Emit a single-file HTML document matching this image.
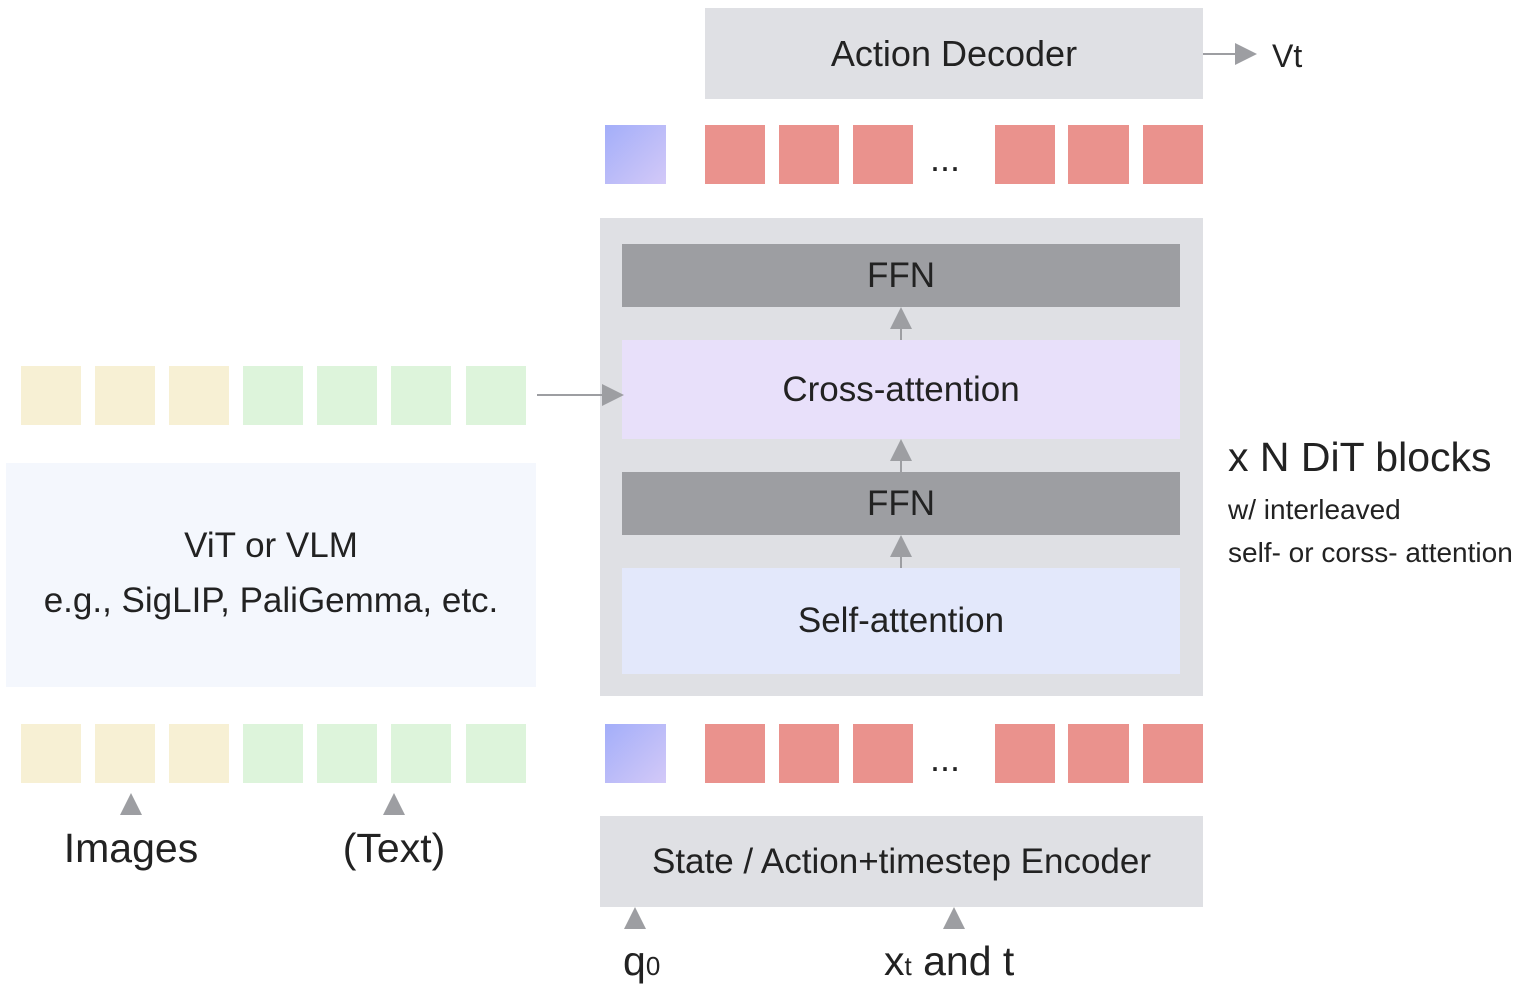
<!DOCTYPE html>
<html><head><style>
body{margin:0;width:1530px;height:984px;background:#fff;position:relative;overflow:hidden;font-family:"Liberation Sans",sans-serif;color:#222}
.a{position:absolute}
.t{display:flex;align-items:center;justify-content:center}
.r{background:#EA928D}.b{background:linear-gradient(135deg,#a3aef9,#d3c9f8)}
.y{background:#F7F0D4}.g{background:#DDF4DB}
.up{width:0;height:0;border-left:11px solid transparent;border-right:11px solid transparent;border-bottom:22px solid #9d9ea2}
</style></head><body>
<div class="a t" style="left:705px;top:8px;width:498px;height:91px;background:#DFE0E4;font-size:36px">Action Decoder</div>
<div class="a" style="left:1203px;top:53px;width:34px;height:2px;background:#9d9ea2"></div>
<div class="a" style="left:1235px;top:43px;width:0;height:0;border-top:11px solid transparent;border-bottom:11px solid transparent;border-left:22px solid #9d9ea2"></div>
<div class="a" style="left:1272px;top:38px;font-size:32px">Vt</div>

<div class="a b" style="left:605px;top:125px;width:61px;height:59px"></div>
<div class="a r" style="left:705px;top:125px;width:60px;height:59px"></div>
<div class="a r" style="left:779px;top:125px;width:60px;height:59px"></div>
<div class="a r" style="left:853px;top:125px;width:60px;height:59px"></div>
<div class="a" style="left:930px;top:138px;font-size:36px">...</div>
<div class="a r" style="left:995px;top:125px;width:60px;height:59px"></div>
<div class="a r" style="left:1068px;top:125px;width:61px;height:59px"></div>
<div class="a r" style="left:1143px;top:125px;width:60px;height:59px"></div>

<div class="a" style="left:600px;top:218px;width:603px;height:478px;background:#DFE0E4"></div>
<div class="a t" style="left:622px;top:244px;width:558px;height:63px;background:#9D9EA2;font-size:35px">FFN</div>
<div class="a t" style="left:622px;top:340px;width:558px;height:99px;background:#E8E0FA;font-size:35px">Cross-attention</div>
<div class="a t" style="left:622px;top:472px;width:558px;height:63px;background:#9D9EA2;font-size:35px">FFN</div>
<div class="a t" style="left:622px;top:568px;width:558px;height:106px;background:#E3E8FB;font-size:35px">Self-attention</div>
<div class="a" style="left:900px;top:320px;width:2px;height:20px;background:#9d9ea2"></div>
<div class="a up" style="left:890px;top:307px"></div>
<div class="a" style="left:900px;top:452px;width:2px;height:20px;background:#9d9ea2"></div>
<div class="a up" style="left:890px;top:439px"></div>
<div class="a" style="left:900px;top:548px;width:2px;height:20px;background:#9d9ea2"></div>
<div class="a up" style="left:890px;top:535px"></div>

<div class="a" style="left:1228px;top:434px;font-size:41px">x N DiT blocks</div>
<div class="a" style="left:1228px;top:494px;font-size:28px">w/ interleaved</div>
<div class="a" style="left:1228px;top:537px;font-size:28px">self- or corss- attention</div>

<div class="a y" style="left:21px;top:366px;width:60px;height:59px"></div>
<div class="a y" style="left:95px;top:366px;width:60px;height:59px"></div>
<div class="a y" style="left:169px;top:366px;width:60px;height:59px"></div>
<div class="a g" style="left:243px;top:366px;width:60px;height:59px"></div>
<div class="a g" style="left:317px;top:366px;width:60px;height:59px"></div>
<div class="a g" style="left:391px;top:366px;width:60px;height:59px"></div>
<div class="a g" style="left:466px;top:366px;width:60px;height:59px"></div>
<div class="a" style="left:537px;top:394px;width:68px;height:2px;background:#9d9ea2"></div>
<div class="a" style="left:602px;top:384px;width:0;height:0;border-top:11px solid transparent;border-bottom:11px solid transparent;border-left:22px solid #9d9ea2"></div>

<div class="a" style="left:6px;top:463px;width:530px;height:224px;background:#F4F7FD"></div>
<div class="a" style="left:6px;top:526px;width:530px;text-align:center;font-size:35px">ViT or VLM</div>
<div class="a" style="left:6px;top:581px;width:530px;text-align:center;font-size:35px">e.g., SigLIP, PaliGemma, etc.</div>

<div class="a y" style="left:21px;top:724px;width:60px;height:59px"></div>
<div class="a y" style="left:95px;top:724px;width:60px;height:59px"></div>
<div class="a y" style="left:169px;top:724px;width:60px;height:59px"></div>
<div class="a g" style="left:243px;top:724px;width:60px;height:59px"></div>
<div class="a g" style="left:317px;top:724px;width:60px;height:59px"></div>
<div class="a g" style="left:391px;top:724px;width:60px;height:59px"></div>
<div class="a g" style="left:466px;top:724px;width:60px;height:59px"></div>
<div class="a up" style="left:120px;top:793px"></div>
<div class="a up" style="left:383px;top:793px"></div>
<div class="a" style="left:31px;top:825px;width:200px;text-align:center;font-size:41px">Images</div>
<div class="a" style="left:294px;top:825px;width:200px;text-align:center;font-size:41px">(Text)</div>

<div class="a b" style="left:605px;top:724px;width:61px;height:59px"></div>
<div class="a r" style="left:705px;top:724px;width:60px;height:59px"></div>
<div class="a r" style="left:779px;top:724px;width:60px;height:59px"></div>
<div class="a r" style="left:853px;top:724px;width:60px;height:59px"></div>
<div class="a" style="left:930px;top:738px;font-size:36px">...</div>
<div class="a r" style="left:995px;top:724px;width:60px;height:59px"></div>
<div class="a r" style="left:1068px;top:724px;width:61px;height:59px"></div>
<div class="a r" style="left:1143px;top:724px;width:60px;height:59px"></div>

<div class="a t" style="left:600px;top:816px;width:603px;height:91px;background:#DFE0E4;font-size:35px">State / Action+timestep Encoder</div>
<div class="a up" style="left:624px;top:907px"></div>
<div class="a up" style="left:943px;top:907px"></div>
<div class="a" style="left:623px;top:938px;font-size:41px">q<span style="font-size:26px">0</span></div>
<div class="a" style="left:884px;top:938px;font-size:41px">x<span style="font-size:26px">t</span> and t</div>
</body></html>
